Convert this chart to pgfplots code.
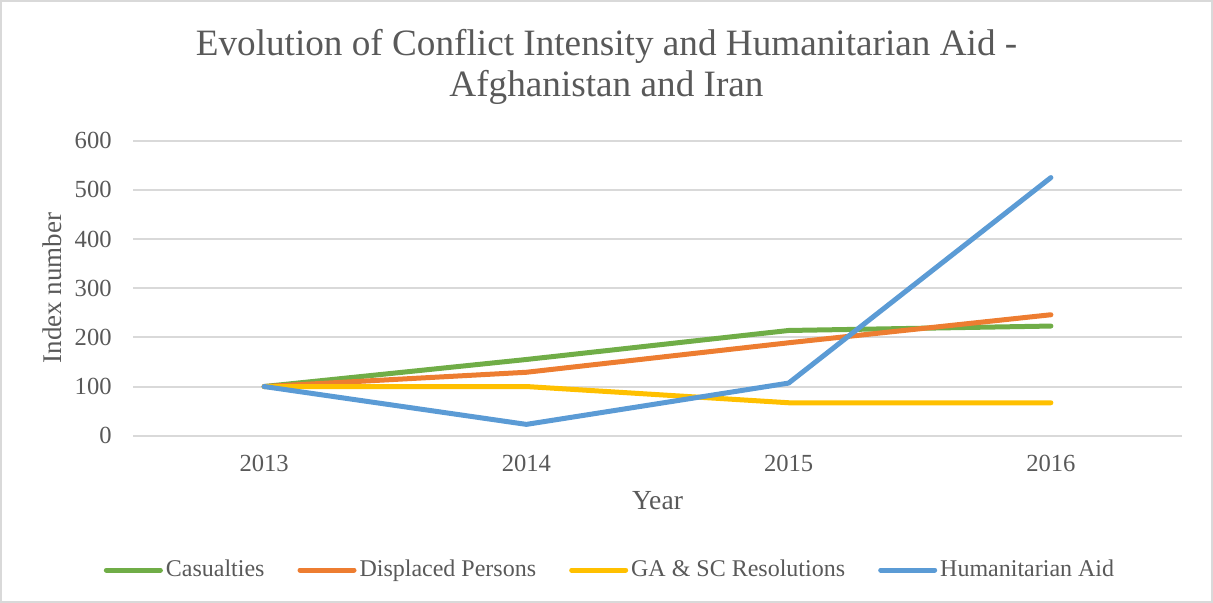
\documentclass[border=0pt]{standalone}
\usepackage{pgfplots}
\pgfplotsset{compat=1.18}
\usepackage{fontspec}
\setmainfont{Liberation Serif}
\definecolor{cgreen}{HTML}{70AD47}
\definecolor{corange}{HTML}{ED7D31}
\definecolor{cyellow}{HTML}{FFC000}
\definecolor{cblue}{HTML}{5B9BD5}
\definecolor{gridgray}{HTML}{D9D9D9}
\definecolor{txtgray}{HTML}{595959}
\begin{document}
\begin{tikzpicture}
\path[use as bounding box] (0,0) rectangle (606.5pt,301.5pt);
\draw[color=gridgray, line width=1pt] (0.5pt,0.5pt) rectangle (606pt,301pt);
\begin{axis}[
  at={(66.5pt,83.65pt)}, anchor=south west,
  scale only axis, width=524.5pt, height=147.5pt,
  xmin=-0.5, xmax=3.5, ymin=0, ymax=600,
  xtick={0,1,2,3}, xticklabels={2013,2014,2015,2016},
  ytick={0,100,200,300,400,500,600},
  ymajorgrids, grid style={draw=gridgray, line width=1pt},
  axis line style={draw=none},
  major tick length=0pt,
  tick label style={font=\fontsize{12.3}{14}\selectfont, text=txtgray},
  /pgf/number format/assume math mode=true,
  yticklabel style={inner sep=0pt, xshift=-10.5pt},
  xticklabel style={inner sep=0pt, yshift=-9.7pt},
  legend columns=4,
  legend style={at={(0.4552,-0.4553)}, anchor=center, draw=none, fill=none,
    font=\fontsize{12}{14}\selectfont, text=txtgray,
    /tikz/every even column/.append style={column sep=15pt},
    nodes={inner sep=1.5pt}},
  legend image code/.code={\draw[#1, line cap=round] (0pt,0pt) -- (27pt,0pt);},
  every axis plot/.append style={line width=2.5pt, line cap=round, line join=round},
]
\addplot[color=cgreen] coordinates {(0,100) (1,155) (2,214) (3,223)};
\addlegendentry{Casualties}
\addplot[color=corange] coordinates {(0,100) (1,129) (2,189) (3,246)};
\addlegendentry{Displaced Persons}
\addplot[color=cyellow] coordinates {(0,100) (1,100) (2,67) (3,67)};
\addlegendentry{GA \& SC Resolutions}
\addplot[color=cblue] coordinates {(0,100) (1,23) (2,107) (3,525)};
\addlegendentry{Humanitarian Aid}
\end{axis}
\node[anchor=base, font=\fontsize{18.6}{21}\selectfont, text=txtgray] at (303.25pt,273.5pt) {Evolution of Conflict Intensity and Humanitarian Aid -};
\node[anchor=base, font=\fontsize{18.6}{21}\selectfont, text=txtgray] at (303.25pt,253pt) {Afghanistan and Iran};
\node[anchor=base, font=\fontsize{13.8}{16}\selectfont, text=txtgray] at (328.75pt,46.5pt) {Year};
\node[rotate=90, font=\fontsize{13.5}{16}\selectfont, text=txtgray] at (26pt,157.5pt) {Index number};
\end{tikzpicture}
\end{document}
